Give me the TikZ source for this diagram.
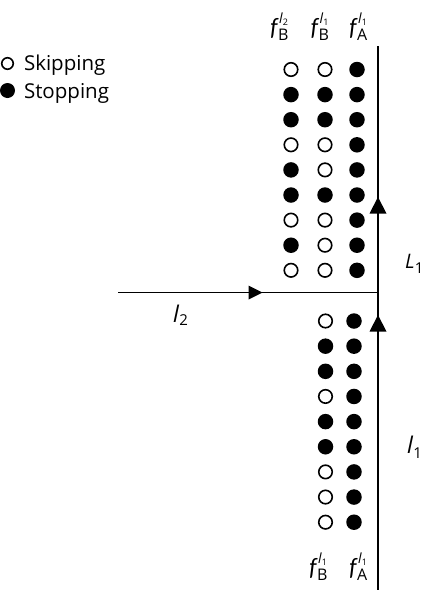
\documentclass[tikz,border=0pt]{standalone}
\usepackage{fontspec}
\setmainfont{Open Sans}
\newfontfamily\lato{Lato}
\newcommand\flab[2]{{\fontsize{23.5}{23.5}\selectfont\lato\itshape f}\rlap{\kern1.5pt\raisebox{12pt}{\fontsize{14}{14}\selectfont\itshape l\kern0.4pt\raisebox{-2.5pt}{\fontsize{9}{9}\selectfont\upshape #2}}}\kern0.6pt\raisebox{-5pt}{\fontsize{16}{16}\selectfont #1}}
\begin{document}
\begin{tikzpicture}[x=1pt,y=-1pt,
  s0/.style={circle,draw=black,line width=1.6pt,fill=white,minimum size=13.5pt,inner sep=0pt},
  s1/.style={circle,fill=black,minimum size=15.5pt,inner sep=0pt},
  flow/.style={line width=1.9pt,black},
  head/.style={fill=black},
  lab/.style={anchor=base west,inner sep=0pt,outer sep=0pt}]
\useasboundingbox (0,0) rectangle (425,590);
% legend
\node[s0,minimum size=11.5pt] (legskip) at (7.5,63.5) {};
\node[s1,minimum size=15pt] (legstop) at (7.5,90.5) {};
\node[lab,font=\fontsize{20.5}{20.5}\selectfont] (tskip) at (24,70) {Skipping};
\node[lab,font=\fontsize{20.5}{20.5}\selectfont] (tstop) at (24,98) {Stopping};
% top labels
\node[lab] (h1) at (270,35) {\flab{B}{2}};
\node[lab] (h2) at (310.5,35) {\flab{B}{1}};
\node[lab] (h3) at (349,35) {\flab{A}{1}};
% bottom labels
\node[lab] (b1) at (309,575) {\flab{B}{1}};
\node[lab] (b2) at (349,575) {\flab{A}{1}};
% upper dots
\foreach \a/\b/\c [count=\i] in {0/0/1,1/1/1,1/1/1,0/0/1,1/0/1,1/1/1,0/0/1,1/0/1,0/0/1}{
  \node[s\a] (u\i a) at (291,{69.5+25.1*(\i-1)}) {};
  \node[s\b] (u\i b) at (325,{69.5+25.1*(\i-1)}) {};
  \node[s\c] (u\i c) at (357,{69.5+25.1*(\i-1)}) {};
}
% lower dots
\foreach \a/\b [count=\i] in {0/1,1/1,1/1,0/1,1/1,1/1,0/1,0/1,0/1}{
  \node[s\a] (d\i a) at (325.5,{321+25.15*(\i-1)}) {};
  \node[s\b] (d\i b) at (354,{321+25.15*(\i-1)}) {};
}
% links
\coordinate (top) at (378,46);
\coordinate (bot) at (378,590);
\coordinate (jn) at (378,292.5);
\coordinate (lft) at (118,292.5);
\draw[flow] (bot) -- (jn) -- (top);
\draw[flow] (lft) -- (jn);
\fill[head] (378,197) -- (369.5,213.5) -- (386.5,213.5) -- cycle;
\fill[head] (378,315) -- (369.5,331.5) -- (386.5,331.5) -- cycle;
\fill[head] (262.5,292.5) -- (248.5,285.5) -- (248.5,299.5) -- cycle;
% link labels
\node[lab] (l2) at (173,322) {{\fontsize{23}{23}\selectfont\itshape l}\kern0.5pt\raisebox{-3.5pt}{\fontsize{15}{15}\selectfont 2}};
\node[lab] (L1) at (405,268) {{\fontsize{20}{20}\selectfont\itshape L}\kern0.3pt\raisebox{-5pt}{\fontsize{15}{15}\selectfont 1}};
\node[lab] (l1) at (407,453) {{\fontsize{23}{23}\selectfont\itshape l}\kern0.5pt\raisebox{-5pt}{\fontsize{15}{15}\selectfont 1}};
\end{tikzpicture}
\end{document}
